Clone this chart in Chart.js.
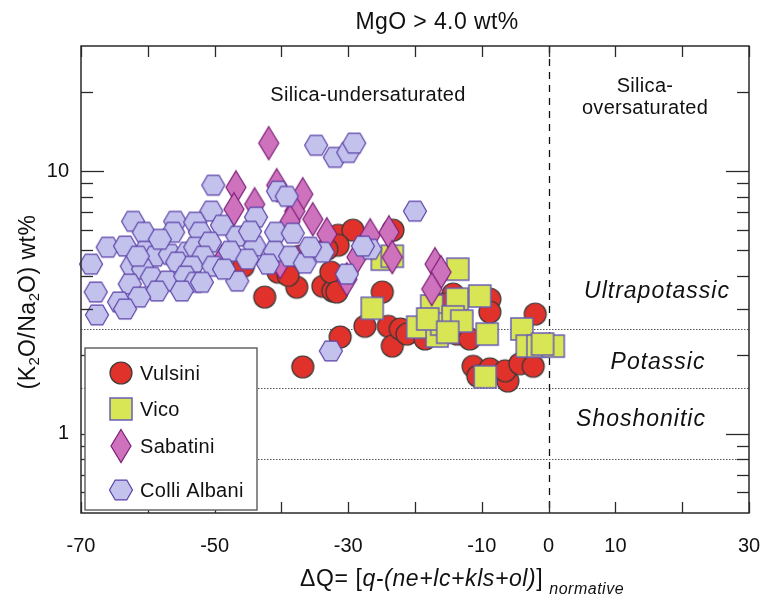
<!DOCTYPE html>
<html lang="en">
<head>
<meta charset="UTF-8">
<title>K2O/Na2O vs normative silica saturation</title>
<script src="https://cdn.jsdelivr.net/npm/chart.js@4.4.1/dist/chart.umd.min.js"></script>
<style>
  html, body { margin: 0; padding: 0; background: #fff; }
  #wrap { width: 769px; height: 597px; }
</style>
</head>
<body>
<div id="wrap"><canvas id="plot" width="769" height="597"></canvas></div>
<script>
// samples with MgO > 4 wt%, dQ (normative) against K2O/Na2O
const vulsiniX = [-42.5, -37.7, -40.5, -39.0, -33.8, -32.3, -32.6, -31.5, -29.3, -31.5,
  -23.3, -24.9, -31.2, -36.8, -27.5, -24.0, -23.4, -22.2, -21.2, -14.3,
  -8.8, -8.8, -2.0, -13.7, -11.8, -11.3, -10.6, -8.8, -6.1, -6.5,
  -4.3, -2.3, -15.2, -45.7, -31.7, -37.2, -33.2, -15.8, -18.5];
const vulsiniY = [3.32, 3.62, 4.13, 4.02, 3.65, 3.50, 4.13, 5.71, 5.97, 5.23,
  5.97, 3.47, 2.34, 1.80, 2.57, 2.57, 2.16, 2.51, 2.40, 3.41,
  3.26, 2.91, 2.86, 2.40, 2.30, 1.81, 1.66, 1.77, 1.59, 1.74,
  1.85, 1.81, 2.44, 4.35, 3.47, 4.75, 5.05, 3.12, 2.30];

const vicoX = [-24.9, -23.4, -26.4, -13.6, -10.3, -13.7, -17.5, -19.6, -16.7, -16.0,
  -14.3, -13.0, -9.2, -4.0, -3.2, -1.6, 0.7, -9.5, -18.1, -0.9, -15.1];
const vicoY = [4.63, 4.75, 3.01, 4.24, 3.35, 3.26, 3.07, 2.55, 2.36, 2.62,
  2.79, 2.69, 2.40, 2.51, 2.16, 2.16, 2.16, 1.65, 2.74, 2.20, 2.44];

const sabatiniX = [-41.9, -46.8, -40.7, -36.8, -47.1, -44.0, -38.0, -35.3, -38.7, -33.2,
  -26.7, -23.9, -23.4, -28.7, -30.2, -17.0, -16.1, -17.5, -48.9, -40.2];
const sabatiniY = [12.8, 8.69, 8.85, 8.18, 7.17, 7.49, 7.05, 6.57, 6.45, 5.76,
  5.71, 5.86, 4.71, 4.71, 3.88, 4.43, 4.13, 3.56, 4.55, 4.51];

const colliX = [-34.8, -32.0, -30.0, -29.1, -20.0, -32.6, -50.2, -40.5, -39.2, -50.5,
  -62.2, -55.9, -52.9, -48.9, -43.8, -60.6, -56.2, -52.2, -40.8, -38.3,
  -46.6, -66.0, -63.4, -60.4, -58.9, -56.7, -54.1, -52.9, -50.7, -51.7,
  -47.7, -44.0, -41.0, -38.7, -33.8, -26.7, -27.8, -68.5, -62.4, -60.7,
  -55.6, -53.4, -50.2, -45.1, -42.0, -36.5, -30.2, -59.4, -57.1, -54.4,
  -52.9, -62.7, -51.9, -46.6, -58.6, -61.3, -64.3, -63.4, -67.8, -67.6,
  -61.5, -48.6, -54.9, -58.2, -44.7, -35.7];
const colliY = [12.56, 11.3, 11.8, 12.8, 7.05, 2.07, 8.85, 8.40, 8.03, 7.05,
  6.45, 6.45, 6.40, 6.23, 6.69, 5.86, 5.86, 5.86, 5.86, 5.81,
  5.66, 5.14, 5.19, 4.96, 4.75, 4.83, 4.92, 5.14, 5.37, 4.75,
  4.96, 5.19, 4.96, 4.75, 4.92, 5.05, 5.19, 4.43, 4.35, 4.24,
  4.51, 4.35, 4.35, 4.63, 4.43, 4.47, 4.06, 3.95, 3.82, 3.99,
  3.78, 3.72, 3.78, 3.82, 3.50, 3.32, 3.18, 2.99, 3.47, 2.84,
  4.75, 4.24, 3.50, 5.51, 5.91, 5.14];

const xTicks = [-70, -60, -50, -40, -30, -20, -10, 0, 10, 20, 30];
const xLabelled = [-70, -50, -30, -10, 0, 10, 30];
const yTicks = [0.6, 0.7, 0.8, 0.9, 1, 2, 3, 4, 5, 6, 7, 8, 9, 10, 20];
const yLabelled = [1, 10];
// ultrapotassic / potassic / shoshonitic limits
const seriesBounds = [2.5, 1.5, 0.8];

const FONT = "'Liberation Sans', Arial, sans-serif";

function markerCanvas(w, h, draw) {
  const c = document.createElement('canvas');
  c.width = w; c.height = h;
  draw(c.getContext('2d'), w / 2, h / 2);
  return c;
}

const markers = {
  circle: markerCanvas(26, 26, (g, cx, cy) => {
    g.beginPath(); g.arc(cx, cy, 11, 0, Math.PI * 2);
    g.fillStyle = '#e0312a'; g.fill();
    g.lineWidth = 1.2; g.strokeStyle = '#3a3a3a'; g.stroke();
  }),
  square: markerCanvas(26, 26, (g, cx, cy) => {
    g.beginPath(); g.rect(cx - 11, cy - 11, 22, 22);
    g.fillStyle = '#d8e554'; g.fill();
    g.lineWidth = 1.5; g.strokeStyle = '#6a5db4'; g.stroke();
  }),
  diamond: markerCanvas(24, 36, (g, cx, cy) => {
    g.beginPath();
    g.moveTo(cx, cy - 16.5); g.lineTo(cx + 10, cy); g.lineTo(cx, cy + 16.5); g.lineTo(cx - 10, cy);
    g.closePath();
    g.fillStyle = '#cf72be'; g.fill();
    g.lineWidth = 1.2; g.strokeStyle = '#7c1f77'; g.stroke();
  }),
  hexagon: markerCanvas(28, 24, (g, cx, cy) => {
    g.beginPath();
    for (let i = 0; i < 6; i++) {
      const a = i * Math.PI / 3;
      g.lineTo(cx + 11.5 * Math.cos(a), cy + 11.5 * Math.sin(a));
    }
    g.closePath();
    g.fillStyle = '#c2c2ec'; g.fill();
    g.lineWidth = 1.2; g.strokeStyle = '#5b40a8'; g.stroke();
  })
};

function points(xs, ys) {
  return xs.map((x, i) => ({ x: x, y: ys[i] }));
}

function drawText(ctx, str, x, y, size, opts) {
  opts = opts || {};
  ctx.font = (opts.italic ? 'italic ' : '') + size + 'px ' + FONT;
  ctx.letterSpacing = (opts.spacing || 0) + 'px';
  ctx.textAlign = opts.align || 'center';
  ctx.textBaseline = opts.baseline || 'middle';
  ctx.fillStyle = '#111';
  ctx.fillText(str, x, y);
}

// runs of mixed text drawn one after another along the baseline
function drawRuns(ctx, runs, x, y, measureOnly) {
  let cx = x;
  ctx.textAlign = 'left';
  ctx.textBaseline = 'alphabetic';
  ctx.fillStyle = '#111';
  runs.forEach(r => {
    ctx.font = (r.italic ? 'italic ' : '') + r.size + 'px ' + FONT;
    ctx.letterSpacing = (r.spacing || 0) + 'px';
    cx += r.pre || 0;
    if (!measureOnly) ctx.fillText(r.t, cx, y + (r.dy || 0));
    cx += ctx.measureText(r.t).width;
  });
  return cx - x;
}

const datasets = [
  { label: 'Vulsini', data: points(vulsiniX, vulsiniY), pointStyle: markers.circle, order: 4 },
  { label: 'Vico', data: points(vicoX, vicoY), pointStyle: markers.square, order: 3 },
  { label: 'Sabatini', data: points(sabatiniX, sabatiniY), pointStyle: markers.diamond, order: 2 },
  { label: 'Colli Albani', data: points(colliX, colliY), pointStyle: markers.hexagon, order: 1 }
];

const decorations = {
  id: 'decorations',
  beforeDatasetsDraw(chart) {
    const { ctx, chartArea: a, scales: { x, y } } = chart;
    ctx.save();
    ctx.strokeStyle = '#555';
    ctx.lineWidth = 1;
    ctx.setLineDash([1.5, 1.5]);
    seriesBounds.forEach(v => {
      const py = Math.round(y.getPixelForValue(v)) + 0.5;
      ctx.beginPath(); ctx.moveTo(a.left, py); ctx.lineTo(a.right, py); ctx.stroke();
    });
    // saturation boundary
    ctx.strokeStyle = '#111';
    ctx.lineWidth = 1.3;
    ctx.setLineDash([7, 6]);
    const px = Math.round(x.getPixelForValue(0)) + 0.5;
    ctx.beginPath(); ctx.moveTo(px, a.top); ctx.lineTo(px, a.bottom); ctx.stroke();
    ctx.restore();
  },
  afterDatasetsDraw(chart) {
    const { ctx, chartArea: a, scales: { x, y } } = chart;
    ctx.save();

    // frame with inward ticks on all four sides
    ctx.strokeStyle = '#2a2a2a';
    ctx.lineWidth = 1.5;
    ctx.strokeRect(a.left, a.top, a.right - a.left, a.bottom - a.top);
    ctx.lineWidth = 1.3;
    const seg = (x1, y1, x2, y2) => { ctx.beginPath(); ctx.moveTo(x1, y1); ctx.lineTo(x2, y2); ctx.stroke(); };
    xTicks.forEach(v => {
      const px = Math.round(x.getPixelForValue(v)) + 0.5;
      seg(px, a.top, px, a.top + 11);
      seg(px, a.bottom, px, a.bottom - 11);
    });
    yTicks.forEach(v => {
      const len = yLabelled.includes(v) ? 23 : 12;
      const py = Math.round(y.getPixelForValue(v)) + 0.5;
      seg(a.left, py, a.left + len, py);
      seg(a.right, py, a.right - len, py);
    });

    // legend box
    const lx = a.left + 4, ly = 348, lw = 172, lh = 162;
    ctx.fillStyle = '#fff';
    ctx.fillRect(lx, ly, lw, lh);
    ctx.strokeStyle = '#666';
    ctx.lineWidth = 1.5;
    ctx.strokeRect(lx, ly, lw, lh);
    const rowY = [25, 61, 98, 142];
    datasets.forEach((ds, i) => {
      const m = ds.pointStyle;
      ctx.drawImage(m, Math.round(lx + 36 - m.width / 2), Math.round(ly + rowY[i] - m.height / 2));
      drawText(ctx, ds.label, lx + 55, ly + rowY[i] + 1, 20, { align: 'left', spacing: 0.3 });
    });

    // region labels
    drawText(ctx, 'MgO > 4.0 wt%', 437, 23, 23, { spacing: 0.4 });
    drawText(ctx, 'Silica-undersaturated', 368, 95, 20, { spacing: 0.3 });
    drawText(ctx, 'Silica-', 645, 86, 20, { spacing: 0.3 });
    drawText(ctx, 'oversaturated', 645, 108, 20, { spacing: 0.3 });
    drawText(ctx, 'Ultrapotassic', 657, 292, 23, { italic: true, spacing: 1 });
    drawText(ctx, 'Potassic', 658, 363, 23, { italic: true, spacing: 1 });
    drawText(ctx, 'Shoshonitic', 641, 420, 23, { italic: true, spacing: 1 });

    // x axis title
    drawRuns(ctx, [
      { t: '\u0394Q= [', size: 23, spacing: 0.6 },
      { t: 'q-(ne+lc+kls+ol)', size: 23, italic: true, spacing: 0.6 },
      { t: ']', size: 23, spacing: 0.6 },
      { t: 'normative', size: 16, italic: true, spacing: 0.5, pre: 6, dy: 8 }
    ], 300, 586);

    // y axis title, rotated
    const yRuns = [
      { t: '(K', size: 23, spacing: 0.5 },
      { t: '2', size: 15, dy: 4 },
      { t: 'O/Na', size: 23, spacing: 0.5 },
      { t: '2', size: 15, dy: 4 },
      { t: 'O) wt%', size: 23, spacing: 0.5 }
    ];
    const len = drawRuns(ctx, yRuns, 0, 0, true);
    ctx.translate(35, 302 + len / 2);
    ctx.rotate(-Math.PI / 2);
    drawRuns(ctx, yRuns, 0, 0);
    ctx.restore();
  }
};

new Chart(document.getElementById('plot'), {
  type: 'scatter',
  data: { datasets: datasets.map(d => Object.assign({ pointRadius: 11, clip: false }, d)) },
  options: {
    responsive: false,
    animation: false,
    events: [],
    devicePixelRatio: 1,
    layout: { padding: { top: 46, right: 20, left: 0, bottom: 0 } },
    plugins: {
      legend: { display: false },
      tooltip: { enabled: false },
      title: { display: false }
    },
    scales: {
      x: {
        type: 'linear',
        min: -70,
        max: 30,
        grid: { display: false, drawTicks: false },
        border: { display: false },
        afterBuildTicks: s => { s.ticks = xTicks.map(v => ({ value: v })); },
        afterFit: s => { s.height = 84; s.paddingLeft = 0; s.paddingRight = 0; },
        ticks: {
          autoSkip: false,
          maxRotation: 0,
          padding: 21,
          color: '#111',
          font: { family: FONT, size: 20 },
          callback: v => xLabelled.includes(v) ? String(v) : ''
        }
      },
      y: {
        type: 'logarithmic',
        min: 0.5,
        max: 30,
        bounds: 'data',
        grid: { display: false, drawTicks: false },
        border: { display: false },
        afterBuildTicks: s => { s.ticks = yTicks.map(v => ({ value: v })); },
        afterFit: s => { s.width = 81; s.paddingTop = 0; s.paddingBottom = 0; },
        ticks: {
          autoSkip: false,
          padding: 12,
          color: '#111',
          font: { family: FONT, size: 20 },
          callback: v => yLabelled.includes(v) ? String(v) : ''
        }
      }
    }
  },
  plugins: [decorations]
});
</script>
</body>
</html>
